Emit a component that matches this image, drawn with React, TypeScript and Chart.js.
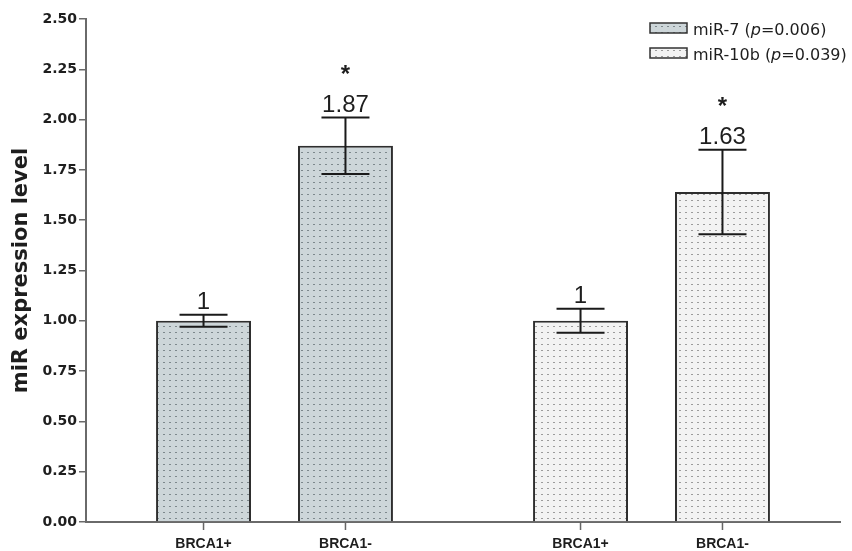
import { useEffect, useRef } from 'react';
import { Chart, registerables } from 'chart.js';

Chart.register(...registerables);

// ---- data ----
const groups = ['miR-7', 'miR-10b'];
const pValues = ['0.006', '0.039'];
const conditions = ['BRCA1+', 'BRCA1-'];
const brca1PosMean = [1.0, 1.0];
const brca1NegMean = [1.87, 1.64];
const brca1PosErr = [0.03, 0.06];
const brca1NegErr = [0.14, 0.21];
const brca1PosText = ['1', '1'];
const brca1NegText = ['1.87', '1.63'];
const brca1PosSig = ['', ''];
const brca1NegSig = ['*', '*'];
const yMin = 0;
const yMax = 2.5;
const yStep = 0.25;
const yTitle = 'miR expression level';

function makePattern(bg: string, dot: string) {
  const c = document.createElement('canvas');
  c.width = 6;
  c.height = 6;
  const g = c.getContext('2d')!;
  g.fillStyle = bg;
  g.fillRect(0, 0, 6, 6);
  g.fillStyle = dot;
  g.fillRect(1, 2, 2, 1);
  return g.createPattern(c, 'repeat')!;
}

const TEXT = '#1e1e1e';

const annotations = {
  id: 'annotations',
  afterDatasetsDraw(chart: any) {
    const { ctx, scales, chartArea } = chart;
    const y = scales.y;
    const patterns = chart.data.datasets[0].backgroundColor;
    ctx.save();
    chart.data.datasets.forEach((ds: any, di: number) => {
      const meta = chart.getDatasetMeta(di);
      meta.data.forEach((bar: any, i: number) => {
        const v = ds.data[i];
        const e = ds.err[i];
        const x = bar.x;
        const yTop = y.getPixelForValue(v + e);
        const yBot = y.getPixelForValue(v - e);
        const half = 24;
        ctx.strokeStyle = '#1a1a1a';
        ctx.lineWidth = 2;
        ctx.beginPath();
        ctx.moveTo(x, yTop);
        ctx.lineTo(x, yBot);
        ctx.moveTo(x - half, yTop);
        ctx.lineTo(x + half, yTop);
        ctx.moveTo(x - half, yBot);
        ctx.lineTo(x + half, yBot);
        ctx.stroke();
        // value label
        ctx.fillStyle = TEXT;
        ctx.textAlign = 'center';
        ctx.textBaseline = 'alphabetic';
        ctx.font = '24px "Liberation Sans", Arial, sans-serif';
        ctx.fillText(ds.valueText[i], x, yTop - 6);
        if (ds.sig[i]) {
          ctx.font = 'bold 24px "Liberation Sans", Arial, sans-serif';
          ctx.fillText(ds.sig[i], x, yTop - 36);
        }
        // x tick and label
        const base = chartArea.bottom;
        ctx.strokeStyle = '#666';
        ctx.lineWidth = 1.5;
        ctx.beginPath();
        ctx.moveTo(x, base);
        ctx.lineTo(x, base + 8);
        ctx.stroke();
        ctx.fillStyle = TEXT;
        ctx.font = 'bold 14px "Liberation Sans", Arial, sans-serif';
        ctx.fillText(ds.label, x, base + 26);
      });
    });

    // legend
    const bx = chartArea.right - 190;
    const by = chartArea.top + 4;
    groups.forEach((g, gi) => {
      const top = by + gi * 25;
      ctx.fillStyle = patterns[gi];
      ctx.fillRect(bx, top, 37, 10);
      ctx.strokeStyle = '#333';
      ctx.lineWidth = 1.5;
      ctx.strokeRect(bx, top, 37, 10);
      ctx.fillStyle = TEXT;
      ctx.textAlign = 'left';
      ctx.textBaseline = 'alphabetic';
      let tx = bx + 43;
      const baseY = top + 12;
      const parts: [string, string][] = [
        [g + ' (', '16px "DejaVu Sans", sans-serif'],
        ['p', 'italic 16px "DejaVu Sans", sans-serif'],
        ['=' + pValues[gi] + ')', '16px "DejaVu Sans", sans-serif'],
      ];
      parts.forEach(([t, f]) => {
        ctx.font = f;
        ctx.fillText(t, tx, baseY);
        tx += ctx.measureText(t).width;
      });
    });
    ctx.restore();
  },
};

export default function App() {
  const ref = useRef<HTMLCanvasElement | null>(null);
  useEffect(() => {
    const canvas = ref.current!;
    const p7 = makePattern('#cdd6d9', '#7d888c');
    const p10 = makePattern('#f3f3f3', '#9c9c9c');
    const patterns = [p7, p10];
    const chart: any = new Chart(canvas, {
      type: 'bar',
      data: {
        labels: groups,
        datasets: [
          {
            label: conditions[0],
            data: brca1PosMean,
            err: brca1PosErr,
            valueText: brca1PosText,
            sig: brca1PosSig,
            backgroundColor: patterns,
            borderColor: '#2e2e2e',
            borderWidth: 2,
          } as any,
          {
            label: conditions[1],
            data: brca1NegMean,
            err: brca1NegErr,
            valueText: brca1NegText,
            sig: brca1NegSig,
            backgroundColor: patterns,
            borderColor: '#2e2e2e',
            borderWidth: 2,
          } as any,
        ],
      },
      options: {
        responsive: false,
        animation: false,
        categoryPercentage: 0.753,
        barPercentage: 0.669,
        layout: { padding: { top: 19, right: 12, left: 0, bottom: 0 } },
        plugins: { legend: { display: false }, tooltip: { enabled: false } },
        scales: {
          x: {
            grid: { display: false },
            border: { display: true, color: '#6a6a6a', width: 2 },
            ticks: { display: false },
            afterFit: (s: any) => {
              s.height = 29;
            },
          },
          y: {
            min: yMin,
            max: yMax,
            ticks: {
              stepSize: yStep,
              padding: 2,
              color: TEXT,
              font: { family: '"DejaVu Sans", sans-serif', size: 14, weight: 'bold' },
              callback: (v: any) => Number(v).toFixed(2),
            },
            grid: { drawOnChartArea: false, drawTicks: true, tickLength: 7, color: '#6a6a6a', lineWidth: 1.5 },
            border: { display: true, color: '#6a6a6a', width: 2 },
            title: {
              display: true,
              text: yTitle,
              color: TEXT,
              font: { family: '"DejaVu Sans", sans-serif', size: 21, weight: 'bold' },
              padding: { top: 9, bottom: 0 },
            },
            afterFit: (s: any) => {
              s.width = 86;
            },
          },
        },
      },
      plugins: [annotations],
    } as any);
    return () => chart.destroy();
  }, []);
  return (
    <div style={{ position: 'absolute', left: 0, top: 0, width: 852, height: 551, background: '#fff' }}>
      <canvas ref={ref} width={852} height={551} style={{ display: 'block' }} />
    </div>
  );
}
